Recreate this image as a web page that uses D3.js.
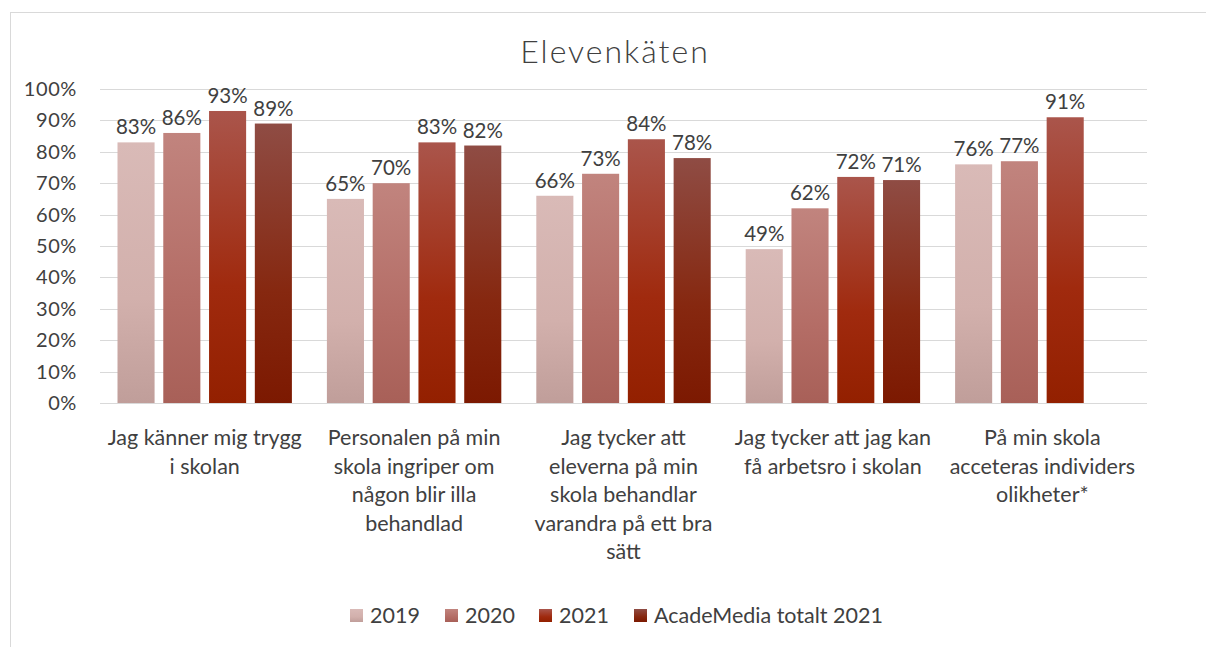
<!DOCTYPE html>
<html>
<head>
<meta charset="utf-8">
<script src="https://cdn.jsdelivr.net/npm/d3@7"></script>
<style>
  body { margin: 0; background: #fff; }
  svg { display: block; font-family: Lato, "Open Sans", sans-serif; }
</style>
</head>
<body>
<svg id="chart" width="1206" height="647"></svg>
<script>
// data
const categories = [
  "Jag känner mig trygg\ni skolan",
  "Personalen på min\nskola ingriper om\nnågon blir illa\nbehandlad",
  "Jag tycker att\neleverna på min\nskola behandlar\nvarandra på ett bra\nsätt",
  "Jag tycker att jag kan\nfå arbetsro i skolan",
  "På min skola\nacceteras individers\nolikheter*"
];
const seriesNames = ["2019", "2020", "2021", "AcadeMedia totalt 2021"];
const v2019 = [83, 65, 66, 49, 76];
const v2020 = [86, 70, 73, 62, 77];
const v2021 = [93, 83, 84, 72, 91];
const vAcade = [89, 82, 78, 71, null];
const yTicks = [0, 10, 20, 30, 40, 50, 60, 70, 80, 90, 100];

// top / middle / bottom colours of each series gradient
const gradStops = [
  ["#d9bab7", "#d2b0ac", "#c09e9a"],
  ["#c1847e", "#b46d66", "#a86058"],
  ["#aa554b", "#a02a0e", "#932000"],
  ["#8f4c44", "#862810", "#7c1901"]
];

const svg = d3.select('#chart');
const plot = { left: 100, right: 1147, top: 89, bottom: 403 };
const textCol = '#404040';

// chart frame
svg.append('rect')
  .attr('x', 10.5).attr('y', 12.5)
  .attr('width', 1220).attr('height', 660)
  .attr('fill', 'none').attr('stroke', '#d9d9d9');

// gradients
const defs = svg.append('defs');
gradStops.forEach((s, i) => {
  const g = defs.append('linearGradient')
    .attr('id', 'grad' + i)
    .attr('x1', 0).attr('y1', 0).attr('x2', 0).attr('y2', 1);
  g.append('stop').attr('offset', '0%').attr('stop-color', s[0]);
  g.append('stop').attr('offset', '60%').attr('stop-color', s[1]);
  g.append('stop').attr('offset', '100%').attr('stop-color', s[2]);
});

const x = d3.scaleBand()
  .domain(d3.range(categories.length))
  .range([plot.left, plot.right])
  .paddingInner(0).paddingOuter(0);

const xInner = d3.scaleBand()
  .domain(d3.range(seriesNames.length))
  .range([17.5, x.bandwidth() - 17.5])
  .paddingInner(0.19).paddingOuter(0);

const y = d3.scaleLinear().domain([0, 100]).range([plot.bottom, plot.top]);

// title
svg.append('text')
  .attr('x', 615).attr('y', 63)
  .attr('text-anchor', 'middle')
  .attr('font-size', 32).attr('font-weight', 300)
  .attr('letter-spacing', 2)
  .attr('fill', textCol)
  .text('Elevenkäten');

// gridlines
svg.append('g')
  .selectAll('line')
  .data(yTicks)
  .join('line')
  .attr('x1', plot.left).attr('x2', plot.right)
  .attr('y1', d => Math.round(y(d)) + 0.5).attr('y2', d => Math.round(y(d)) + 0.5)
  .attr('stroke', '#d9d9d9').attr('stroke-width', 1.2);

// y axis labels
const yAxis = d3.axisLeft(y).tickValues(yTicks).tickFormat(d => d + '%').tickSize(0).tickPadding(0);
const yg = svg.append('g').attr('transform', `translate(77,0)`).call(yAxis);
yg.select('.domain').remove();
yg.selectAll('text')
  .attr('font-size', 20).attr('fill', textCol)
  .attr('letter-spacing', 0.6)
  .attr('font-family', 'Lato, "Open Sans", sans-serif');

// bars
const allSeries = [v2019, v2020, v2021, vAcade];
allSeries.forEach((vals, si) => {
  const g = svg.append('g');
  const pts = vals.map((v, ci) => ({ v, ci })).filter(d => d.v != null);
  g.selectAll('rect')
    .data(pts)
    .join('rect')
    .attr('x', d => x(d.ci) + xInner(si))
    .attr('width', xInner.bandwidth())
    .attr('y', d => y(d.v))
    .attr('height', d => y(0) - y(d.v))
    .attr('fill', `url(#grad${si})`);
  g.selectAll('text')
    .data(pts)
    .join('text')
    .attr('x', d => x(d.ci) + xInner(si) + xInner.bandwidth() / 2)
    .attr('y', d => y(d.v) - 8)
    .attr('text-anchor', 'middle')
    .attr('font-size', 20.5).attr('fill', textCol)
    .text(d => d.v + '%');
});

// category labels
categories.forEach((c, ci) => {
  const t = svg.append('text')
    .attr('text-anchor', 'middle')
    .attr('font-size', 21.5).attr('fill', textCol);
  c.split('\n').forEach((line, li) => {
    t.append('tspan')
      .attr('x', x(ci) + x.bandwidth() / 2)
      .attr('y', 445 + li * 28.6)
      .text(line);
  });
});

// legend
const legendX = [350, 445, 539, 634];
const lg = svg.append('g');
seriesNames.forEach((name, i) => {
  lg.append('rect')
    .attr('x', legendX[i]).attr('y', 609)
    .attr('width', 13).attr('height', 13)
    .attr('fill', `url(#grad${i})`);
  lg.append('text')
    .attr('x', legendX[i] + 20).attr('y', 623)
    .attr('font-size', 21.5).attr('fill', textCol)
    .text(name);
});
</script>
</body>
</html>
